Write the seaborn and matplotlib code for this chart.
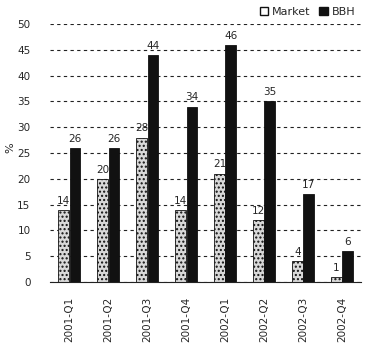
import matplotlib
matplotlib.use('Agg')
import matplotlib.pyplot as plt
import seaborn as sns
import pandas as pd
from matplotlib.patches import Patch

quarters = ['2001-Q1', '2001-Q2', '2001-Q3', '2001-Q4',
            '2002-Q1', '2002-Q2', '2002-Q3', '2002-Q4']
market = [14, 20, 28, 14, 21, 12, 4, 1]
bbh = [26, 26, 44, 34, 46, 35, 17, 6]

df = pd.DataFrame({
    'Quarter': quarters * 2,
    'Series': ['Market'] * len(quarters) + ['BBH'] * len(quarters),
    'Value': market + bbh,
})

sns.set_style('white')
plt.rcParams['font.family'] = ['DejaVu Sans']

fig = plt.figure(figsize=(3.65, 3.45), dpi=100)
ax = fig.add_axes([0.137, 0.183, 0.853, 0.747])

sns.barplot(data=df, x='Quarter', y='Value', hue='Series', ax=ax,
            palette={'Market': '#d9d9d9', 'BBH': '#111111'},
            width=0.58, gap=0.05, edgecolor='#111111', linewidth=0.6,
            legend=False)

# stippled market bars
for patch in ax.patches[:len(quarters)]:
    patch.set_hatch('....')

for cont in ax.containers:
    ax.bar_label(cont, fontsize=7.5, padding=3)

ax.set_ylim(0, 50)
ax.set_yticks(range(0, 51, 5))
ax.yaxis.grid(True, linestyle=(0, (3, 3)), color='#222222', linewidth=0.8)
ax.set_axisbelow(True)
ax.set_xlim(-0.5, len(quarters) - 0.5)

for side in ['top', 'right', 'left']:
    ax.spines[side].set_visible(False)
ax.spines['bottom'].set_color('#222222')
ax.tick_params(axis='y', length=0, labelsize=7.5, pad=14)
ax.tick_params(axis='x', length=3, labelsize=7.5, rotation=90, pad=8)
ax.set_xlabel('')
ax.set_ylabel('%', fontsize=8)
ax.yaxis.set_label_coords(-0.11, 0.52)

handles = [Patch(facecolor='white', edgecolor='#111111', label='Market'),
           Patch(facecolor='#111111', edgecolor='#111111', label='BBH')]
fig.legend(handles=handles, loc='upper right', bbox_to_anchor=(1.0, 1.01),
           ncol=2, frameon=False, fontsize=8, handlelength=0.8,
           handleheight=0.8, handletextpad=0.3, columnspacing=0.8)

fig.savefig('out.png', dpi=100)
